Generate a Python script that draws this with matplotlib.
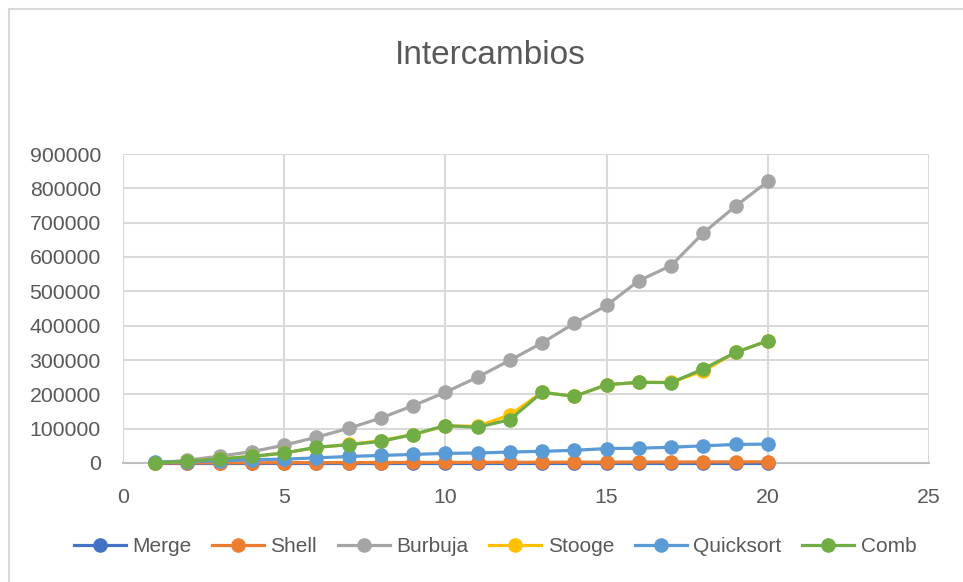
import matplotlib
matplotlib.use("Agg")
import matplotlib.pyplot as plt
from matplotlib.patches import Rectangle

plt.rcParams['font.family'] = ['Liberation Sans', 'DejaVu Sans']

x = list(range(1, 21))
merge = [0, 0, 0, 0, 0, 0, 0, 0, 0, 0, 0, 0, 0, 0, 0, 0, 0, 0, 0, 0]
shell = [0, 300, 500, 700, 900, 1100, 1200, 1400, 1600, 1700, 1900, 2100, 2200, 2400, 2600, 2800, 2900, 3100, 3300, 3500]
burbuja = [0, 8000, 20000, 33000, 52000, 75000, 101000, 131000, 167000, 206000,
           250000, 299000, 350000, 407000, 459000, 531000, 575000, 670000, 748000, 820000]
stooge = [0, 5000, 12000, 19000, 29000, 45000, 54000, 65000, 83000, 108000,
          107000, 140000, 206000, 194000, 228000, 235000, 235000, 268000, 322000, 356000]
quicksort = [3000, 4000, 6000, 10000, 11000, 15000, 19000, 22000, 25000, 28000,
             29000, 32000, 34000, 37000, 42000, 43000, 46000, 50000, 54000, 55000]
comb = [0, 5000, 12000, 19000, 29000, 46000, 53000, 63000, 83000, 109000,
        104000, 126000, 206000, 194000, 228000, 235000, 234000, 274000, 322000, 356000]

series = [("Merge", merge, "#4472C4"),
          ("Shell", shell, "#ED7D31"),
          ("Burbuja", burbuja, "#A5A5A5"),
          ("Stooge", stooge, "#FFC000"),
          ("Quicksort", quicksort, "#5B9BD5"),
          ("Comb", comb, "#70AD47")]

yticks = [0, 100000, 200000, 300000, 400000, 500000, 600000, 700000, 800000, 900000]
xticks = [0, 5, 10, 15, 20, 25]
title = "Intercambios"

text_color = "#595959"
grid_color = "#D9D9D9"

fig = plt.figure(figsize=(9.63, 5.82), dpi=100)
ax = fig.add_axes([123/963, 1 - 463/582, (929 - 123)/963, (463 - 154)/582])

for i, (name, vals, col) in enumerate(series):
    ax.plot(x, vals, color=col, linewidth=2.3, marker='o', markersize=10.5,
            markeredgewidth=0, label=name, zorder=3 + i, clip_on=False)

ax.set_xlim(0, 25)
ax.set_ylim(0, 900000)
ax.set_xticks(xticks)
ax.set_yticks(yticks)
ax.set_xticklabels([str(t) for t in xticks])
ax.set_yticklabels([str(t) for t in yticks])
ax.tick_params(axis='both', length=0, labelsize=15.3, colors=text_color)
ax.tick_params(axis='y', pad=16)
ax.tick_params(axis='x', pad=18)
ax.grid(True, color=grid_color, linewidth=1.5, zorder=0)
ax.set_axisbelow(True)
for s in ['top', 'right', 'left']:
    ax.spines[s].set_visible(False)
ax.spines['bottom'].set_color("#BFBFBF")
ax.spines['bottom'].set_linewidth(1.5)

fig.text(490/963, 1 - 56/582, title, ha='center', va='center', fontsize=24,
         color=text_color)

leg = fig.legend(loc='center', bbox_to_anchor=(495/963, 1 - 547/582), ncol=6,
                 frameon=False, fontsize=15, handlelength=2.5, columnspacing=1.0,
                 handletextpad=0.3, labelcolor=text_color)

# chart area border (only top/left visible in the crop)
fig.patches.append(Rectangle((9/963, -0.1), 1.2, 1 - 8.5/582 + 0.1,
                             transform=fig.transFigure, fill=False,
                             edgecolor=grid_color, linewidth=1.5))

fig.savefig("out.png", dpi=100, facecolor="white")
